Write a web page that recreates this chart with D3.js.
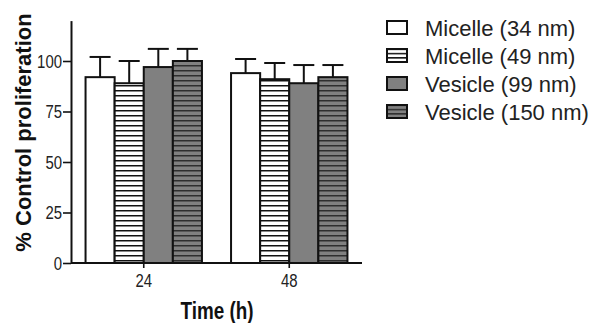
<!DOCTYPE html>
<html>
<head>
<meta charset="utf-8">
<script src="https://cdn.jsdelivr.net/npm/d3@7"></script>
<style>
  body { margin: 0; background: #fff; }
  svg { font-family: "Liberation Sans", Arial, sans-serif; }
</style>
</head>
<body>
<svg id="chart"></svg>
<script>
// data
const timepoints = ['24', '48'];
const series = ['Micelle (34 nm)', 'Micelle (49 nm)', 'Vesicle (99 nm)', 'Vesicle (150 nm)'];
const means = [
    [92, 89, 97, 100],
    [94, 91, 89, 92]
];
const errors = [
    [10, 11, 9, 6],
    [7, 8, 9, 6]
];
const yTicks = [0, 25, 50, 75, 100];

function drawChart() {
    const width = 593;
    const height = 323;
    const margin = { top: 20.6, right: 231, bottom: 60, left: 71 };

    const svg = d3.select('#chart')
        .attr('width', width)
        .attr('height', height);

    // fill patterns for the striped bars
    const defs = svg.append('defs');
    const stripeSets = [
        { id: 'stripeWhite', bg: '#ffffff', line: '#111111', h: 5, y: 0 },
        { id: 'stripeGray', bg: '#808080', line: '#2e2e2e', h: 5, y: 0 },
        { id: 'legWhite', bg: '#ffffff', line: '#111111', h: 4.3, y: 21 },
        { id: 'legGray', bg: '#808080', line: '#2e2e2e', h: 4.3, y: 21 }
    ];
    stripeSets.forEach(s => {
        const p = defs.append('pattern')
            .attr('id', s.id)
            .attr('patternUnits', 'userSpaceOnUse')
            .attr('y', s.y)
            .attr('width', 10)
            .attr('height', s.h);
        p.append('rect').attr('width', 10).attr('height', s.h).attr('fill', s.bg);
        p.append('rect').attr('width', 10).attr('height', 1.5).attr('fill', s.line);
    });

    const fills = ['#ffffff', 'url(#stripeWhite)', '#808080', 'url(#stripeGray)'];
    const legFills = ['#ffffff', 'url(#legWhite)', '#808080', 'url(#legGray)'];

    const x = d3.scaleBand()
        .domain(timepoints)
        .range([margin.left, width - margin.right])
        .paddingInner(0.2)
        .paddingOuter(0.1);

    const xs = d3.scaleBand()
        .domain(series)
        .range([0, x.bandwidth()]);

    const y = d3.scaleLinear()
        .domain([0, 120])
        .range([height - margin.bottom, margin.top]);

    const rows = [];
    timepoints.forEach((t, i) => {
        series.forEach((s, j) => {
            rows.push({ t: t, s: s, j: j, v: means[i][j], e: errors[i][j] });
        });
    });

    const cx = d => x(d.t) + xs(d.s) + xs.bandwidth() / 2;

    // error bars (upper only)
    const eb = svg.append('g')
        .attr('stroke', '#111')
        .attr('stroke-width', 2)
        .attr('fill', 'none');

    eb.selectAll('.ebar')
        .data(rows)
        .enter().append('line')
        .attr('x1', cx)
        .attr('x2', cx)
        .attr('y1', d => y(d.v))
        .attr('y2', d => y(d.v + d.e));

    eb.selectAll('.ecap')
        .data(rows)
        .enter().append('line')
        .attr('x1', d => cx(d) - 10.5)
        .attr('x2', d => cx(d) + 10.5)
        .attr('y1', d => y(d.v + d.e))
        .attr('y2', d => y(d.v + d.e));

    // bars
    svg.selectAll('.bar')
        .data(rows)
        .enter().append('rect')
        .attr('class', 'bar')
        .attr('x', d => x(d.t) + xs(d.s))
        .attr('width', xs.bandwidth())
        .attr('y', d => y(d.v))
        .attr('height', d => y(0) - y(d.v))
        .attr('fill', d => fills[d.j])
        .attr('stroke', '#111')
        .attr('stroke-width', 2);

    // axes
    const yAxis = svg.append('g')
        .attr('transform', `translate(${margin.left},0)`)
        .call(d3.axisLeft(y).tickValues(yTicks).tickSize(8).tickSizeOuter(0).tickPadding(1));

    const xAxis = svg.append('g')
        .attr('transform', `translate(0,${y(0)})`)
        .call(d3.axisBottom(x).tickSize(5).tickSizeOuter(0).tickPadding(6));

    // the original uses a condensed face, so squeeze the digits a bit
    [xAxis, yAxis].forEach(a => {
        a.select('.domain').attr('stroke', '#111').attr('stroke-width', 2);
        a.selectAll('.tick line').attr('stroke', '#111').attr('stroke-width', 1.6);
        a.selectAll('.tick text')
            .attr('fill', '#222')
            .style('font-size', '18px')
            .attr('textLength', function () { return this.textContent.length * 8.3; })
            .attr('lengthAdjust', 'spacingAndGlyphs');
    });
    yAxis.selectAll('.tick text').attr('dy', '0.36em');
    xAxis.selectAll('.tick text').attr('dy', '0.72em');
    xAxis.select('.domain').attr('d', `M${margin.left},0H${width - margin.right}`);

    // axis titles
    svg.append('text')
        .text('Time (h)')
        .attr('x', 217)
        .attr('y', 319)
        .attr('text-anchor', 'middle')
        .attr('textLength', 73)
        .attr('lengthAdjust', 'spacingAndGlyphs')
        .style('font-weight', 'bold')
        .style('font-size', '23px')
        .attr('fill', '#111');

    svg.append('text')
        .text('% Control proliferation')
        .attr('transform', 'translate(31,132.5) rotate(-90)')
        .attr('text-anchor', 'middle')
        .style('font-weight', 'bold')
        .style('font-size', '22px')
        .attr('fill', '#111');

    // legend
    const legend = svg.append('g')
        .attr('transform', 'translate(387,21)');

    const item = legend.selectAll('.item')
        .data(series)
        .enter().append('g')
        .attr('transform', (d, i) => `translate(0,${i * 28})`);

    item.append('rect')
        .attr('width', 20)
        .attr('height', 13)
        .attr('fill', (d, i) => legFills[i])
        .attr('stroke', '#111')
        .attr('stroke-width', 2);

    item.append('text')
        .text(d => d)
        .attr('x', 38)
        .attr('y', 15)
        .style('font-size', '22px')
        .attr('fill', '#222');
}

window.addEventListener('load', drawChart);
</script>
</body>
</html>
